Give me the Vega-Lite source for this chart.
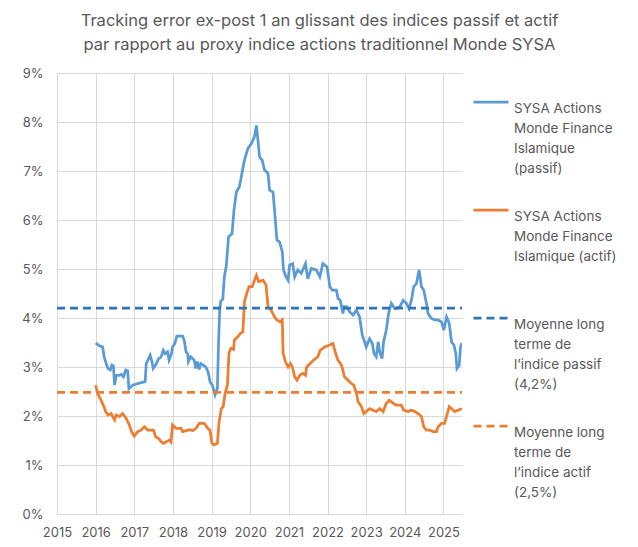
{
  "$schema": "https://vega.github.io/schema/vega-lite/v6.json",
  "width": 405,
  "height": 441,
  "autosize": {"type": "none"},
  "padding": {"left": 57, "top": 73, "right": 176, "bottom": 33},
  "background": "white",
  "title": {
    "text": ["Tracking error ex-post 1 an glissant des indices passif et actif", "par rapport au proxy indice actions traditionnel Monde SYSA"],
    "fontSize": 16.5,
    "font": "Inter",
    "fontWeight": "normal",
    "color": "#595959",
    "lineHeight": 24,
    "anchor": "middle",
    "dx": 60,
    "offset": 14
  },
  "data": {
    "values": [
      {"annee": 2016.00, "te": 3.49, "serie": "passif"},
      {"annee": 2016.05, "te": 3.46, "serie": "passif"},
      {"annee": 2016.10, "te": 3.43, "serie": "passif"},
      {"annee": 2016.18, "te": 3.41, "serie": "passif"},
      {"annee": 2016.22, "te": 3.21, "serie": "passif"},
      {"annee": 2016.28, "te": 3.05, "serie": "passif"},
      {"annee": 2016.32, "te": 2.97, "serie": "passif"},
      {"annee": 2016.38, "te": 2.94, "serie": "passif"},
      {"annee": 2016.42, "te": 3.04, "serie": "passif"},
      {"annee": 2016.46, "te": 3.02, "serie": "passif"},
      {"annee": 2016.49, "te": 2.63, "serie": "passif"},
      {"annee": 2016.53, "te": 2.83, "serie": "passif"},
      {"annee": 2016.60, "te": 2.83, "serie": "passif"},
      {"annee": 2016.66, "te": 2.85, "serie": "passif"},
      {"annee": 2016.72, "te": 2.80, "serie": "passif"},
      {"annee": 2016.78, "te": 2.94, "serie": "passif"},
      {"annee": 2016.83, "te": 2.92, "serie": "passif"},
      {"annee": 2016.86, "te": 2.56, "serie": "passif"},
      {"annee": 2016.96, "te": 2.63, "serie": "passif"},
      {"annee": 2017.13, "te": 2.67, "serie": "passif"},
      {"annee": 2017.28, "te": 2.70, "serie": "passif"},
      {"annee": 2017.31, "te": 3.07, "serie": "passif"},
      {"annee": 2017.41, "te": 3.24, "serie": "passif"},
      {"annee": 2017.46, "te": 3.10, "serie": "passif"},
      {"annee": 2017.49, "te": 2.97, "serie": "passif"},
      {"annee": 2017.56, "te": 3.05, "serie": "passif"},
      {"annee": 2017.63, "te": 3.17, "serie": "passif"},
      {"annee": 2017.69, "te": 3.20, "serie": "passif"},
      {"annee": 2017.75, "te": 3.34, "serie": "passif"},
      {"annee": 2017.80, "te": 3.27, "serie": "passif"},
      {"annee": 2017.86, "te": 3.31, "serie": "passif"},
      {"annee": 2017.90, "te": 3.14, "serie": "passif"},
      {"annee": 2017.96, "te": 3.27, "serie": "passif"},
      {"annee": 2017.99, "te": 3.41, "serie": "passif"},
      {"annee": 2018.05, "te": 3.48, "serie": "passif"},
      {"annee": 2018.10, "te": 3.63, "serie": "passif"},
      {"annee": 2018.25, "te": 3.63, "serie": "passif"},
      {"annee": 2018.29, "te": 3.55, "serie": "passif"},
      {"annee": 2018.34, "te": 3.31, "serie": "passif"},
      {"annee": 2018.38, "te": 3.27, "serie": "passif"},
      {"annee": 2018.40, "te": 3.11, "serie": "passif"},
      {"annee": 2018.46, "te": 3.21, "serie": "passif"},
      {"annee": 2018.50, "te": 3.18, "serie": "passif"},
      {"annee": 2018.55, "te": 3.14, "serie": "passif"},
      {"annee": 2018.59, "te": 2.97, "serie": "passif"},
      {"annee": 2018.63, "te": 3.11, "serie": "passif"},
      {"annee": 2018.68, "te": 2.95, "serie": "passif"},
      {"annee": 2018.72, "te": 3.07, "serie": "passif"},
      {"annee": 2018.78, "te": 3.04, "serie": "passif"},
      {"annee": 2018.85, "te": 3.00, "serie": "passif"},
      {"annee": 2018.91, "te": 2.90, "serie": "passif"},
      {"annee": 2018.96, "te": 2.70, "serie": "passif"},
      {"annee": 2019.02, "te": 2.63, "serie": "passif"},
      {"annee": 2019.09, "te": 2.43, "serie": "passif"},
      {"annee": 2019.15, "te": 2.56, "serie": "passif"},
      {"annee": 2019.18, "te": 3.48, "serie": "passif"},
      {"annee": 2019.21, "te": 4.16, "serie": "passif"},
      {"annee": 2019.24, "te": 4.35, "serie": "passif"},
      {"annee": 2019.29, "te": 4.38, "serie": "passif"},
      {"annee": 2019.33, "te": 4.84, "serie": "passif"},
      {"annee": 2019.38, "te": 5.06, "serie": "passif"},
      {"annee": 2019.44, "te": 5.66, "serie": "passif"},
      {"annee": 2019.53, "te": 5.72, "serie": "passif"},
      {"annee": 2019.58, "te": 6.20, "serie": "passif"},
      {"annee": 2019.64, "te": 6.57, "serie": "passif"},
      {"annee": 2019.72, "te": 6.68, "serie": "passif"},
      {"annee": 2019.85, "te": 7.22, "serie": "passif"},
      {"annee": 2019.94, "te": 7.46, "serie": "passif"},
      {"annee": 2020.03, "te": 7.56, "serie": "passif"},
      {"annee": 2020.11, "te": 7.70, "serie": "passif"},
      {"annee": 2020.16, "te": 7.93, "serie": "passif"},
      {"annee": 2020.20, "te": 7.63, "serie": "passif"},
      {"annee": 2020.24, "te": 7.29, "serie": "passif"},
      {"annee": 2020.31, "te": 7.22, "serie": "passif"},
      {"annee": 2020.37, "te": 7.02, "serie": "passif"},
      {"annee": 2020.46, "te": 6.95, "serie": "passif"},
      {"annee": 2020.50, "te": 6.61, "serie": "passif"},
      {"annee": 2020.59, "te": 6.57, "serie": "passif"},
      {"annee": 2020.63, "te": 6.20, "serie": "passif"},
      {"annee": 2020.69, "te": 5.59, "serie": "passif"},
      {"annee": 2020.76, "te": 5.55, "serie": "passif"},
      {"annee": 2020.83, "te": 5.35, "serie": "passif"},
      {"annee": 2020.86, "te": 4.98, "serie": "passif"},
      {"annee": 2020.92, "te": 4.85, "serie": "passif"},
      {"annee": 2020.98, "te": 4.77, "serie": "passif"},
      {"annee": 2021.02, "te": 5.08, "serie": "passif"},
      {"annee": 2021.10, "te": 5.11, "serie": "passif"},
      {"annee": 2021.15, "te": 4.84, "serie": "passif"},
      {"annee": 2021.23, "te": 4.98, "serie": "passif"},
      {"annee": 2021.32, "te": 4.91, "serie": "passif"},
      {"annee": 2021.43, "te": 5.11, "serie": "passif"},
      {"annee": 2021.49, "te": 4.80, "serie": "passif"},
      {"annee": 2021.58, "te": 5.01, "serie": "passif"},
      {"annee": 2021.71, "te": 4.98, "serie": "passif"},
      {"annee": 2021.80, "te": 4.84, "serie": "passif"},
      {"annee": 2021.88, "te": 5.11, "serie": "passif"},
      {"annee": 2021.99, "te": 5.04, "serie": "passif"},
      {"annee": 2022.06, "te": 4.64, "serie": "passif"},
      {"annee": 2022.12, "te": 4.57, "serie": "passif"},
      {"annee": 2022.23, "te": 4.57, "serie": "passif"},
      {"annee": 2022.27, "te": 4.40, "serie": "passif"},
      {"annee": 2022.33, "te": 4.36, "serie": "passif"},
      {"annee": 2022.40, "te": 4.09, "serie": "passif"},
      {"annee": 2022.43, "te": 4.23, "serie": "passif"},
      {"annee": 2022.49, "te": 4.23, "serie": "passif"},
      {"annee": 2022.57, "te": 4.13, "serie": "passif"},
      {"annee": 2022.66, "te": 4.06, "serie": "passif"},
      {"annee": 2022.75, "te": 4.16, "serie": "passif"},
      {"annee": 2022.83, "te": 4.02, "serie": "passif"},
      {"annee": 2022.90, "te": 3.65, "serie": "passif"},
      {"annee": 2022.96, "te": 3.51, "serie": "passif"},
      {"annee": 2023.00, "te": 3.41, "serie": "passif"},
      {"annee": 2023.09, "te": 3.58, "serie": "passif"},
      {"annee": 2023.16, "te": 3.48, "serie": "passif"},
      {"annee": 2023.20, "te": 3.28, "serie": "passif"},
      {"annee": 2023.26, "te": 3.21, "serie": "passif"},
      {"annee": 2023.31, "te": 3.51, "serie": "passif"},
      {"annee": 2023.35, "te": 3.31, "serie": "passif"},
      {"annee": 2023.41, "te": 3.17, "serie": "passif"},
      {"annee": 2023.45, "te": 3.51, "serie": "passif"},
      {"annee": 2023.52, "te": 3.75, "serie": "passif"},
      {"annee": 2023.58, "te": 4.09, "serie": "passif"},
      {"annee": 2023.65, "te": 4.30, "serie": "passif"},
      {"annee": 2023.74, "te": 4.19, "serie": "passif"},
      {"annee": 2023.87, "te": 4.23, "serie": "passif"},
      {"annee": 2023.96, "te": 4.36, "serie": "passif"},
      {"annee": 2024.04, "te": 4.30, "serie": "passif"},
      {"annee": 2024.11, "te": 4.19, "serie": "passif"},
      {"annee": 2024.17, "te": 4.36, "serie": "passif"},
      {"annee": 2024.23, "te": 4.64, "serie": "passif"},
      {"annee": 2024.30, "te": 4.70, "serie": "passif"},
      {"annee": 2024.37, "te": 4.98, "serie": "passif"},
      {"annee": 2024.43, "te": 4.64, "serie": "passif"},
      {"annee": 2024.49, "te": 4.57, "serie": "passif"},
      {"annee": 2024.56, "te": 4.30, "serie": "passif"},
      {"annee": 2024.60, "te": 4.09, "serie": "passif"},
      {"annee": 2024.69, "te": 3.99, "serie": "passif"},
      {"annee": 2024.78, "te": 3.96, "serie": "passif"},
      {"annee": 2024.86, "te": 3.96, "serie": "passif"},
      {"annee": 2024.95, "te": 3.92, "serie": "passif"},
      {"annee": 2025.01, "te": 3.75, "serie": "passif"},
      {"annee": 2025.08, "te": 4.02, "serie": "passif"},
      {"annee": 2025.15, "te": 3.89, "serie": "passif"},
      {"annee": 2025.21, "te": 3.51, "serie": "passif"},
      {"annee": 2025.27, "te": 3.45, "serie": "passif"},
      {"annee": 2025.32, "te": 3.28, "serie": "passif"},
      {"annee": 2025.35, "te": 2.97, "serie": "passif"},
      {"annee": 2025.41, "te": 3.04, "serie": "passif"},
      {"annee": 2025.44, "te": 3.41, "serie": "passif"},
      {"annee": 2025.48, "te": 3.49, "serie": "passif"},

      {"annee": 2016.00, "te": 2.63, "serie": "actif"},
      {"annee": 2016.05, "te": 2.46, "serie": "actif"},
      {"annee": 2016.14, "te": 2.32, "serie": "actif"},
      {"annee": 2016.20, "te": 2.22, "serie": "actif"},
      {"annee": 2016.26, "te": 2.09, "serie": "actif"},
      {"annee": 2016.32, "te": 2.02, "serie": "actif"},
      {"annee": 2016.40, "te": 2.05, "serie": "actif"},
      {"annee": 2016.49, "te": 1.92, "serie": "actif"},
      {"annee": 2016.53, "te": 2.02, "serie": "actif"},
      {"annee": 2016.62, "te": 1.99, "serie": "actif"},
      {"annee": 2016.70, "te": 2.05, "serie": "actif"},
      {"annee": 2016.79, "te": 1.95, "serie": "actif"},
      {"annee": 2016.87, "te": 1.82, "serie": "actif"},
      {"annee": 2016.93, "te": 1.68, "serie": "actif"},
      {"annee": 2017.00, "te": 1.59, "serie": "actif"},
      {"annee": 2017.09, "te": 1.68, "serie": "actif"},
      {"annee": 2017.17, "te": 1.71, "serie": "actif"},
      {"annee": 2017.26, "te": 1.78, "serie": "actif"},
      {"annee": 2017.35, "te": 1.71, "serie": "actif"},
      {"annee": 2017.44, "te": 1.71, "serie": "actif"},
      {"annee": 2017.50, "te": 1.71, "serie": "actif"},
      {"annee": 2017.55, "te": 1.58, "serie": "actif"},
      {"annee": 2017.63, "te": 1.54, "serie": "actif"},
      {"annee": 2017.69, "te": 1.48, "serie": "actif"},
      {"annee": 2017.75, "te": 1.44, "serie": "actif"},
      {"annee": 2017.82, "te": 1.47, "serie": "actif"},
      {"annee": 2017.91, "te": 1.51, "serie": "actif"},
      {"annee": 2017.95, "te": 1.47, "serie": "actif"},
      {"annee": 2017.99, "te": 1.82, "serie": "actif"},
      {"annee": 2018.08, "te": 1.75, "serie": "actif"},
      {"annee": 2018.21, "te": 1.75, "serie": "actif"},
      {"annee": 2018.25, "te": 1.68, "serie": "actif"},
      {"annee": 2018.38, "te": 1.71, "serie": "actif"},
      {"annee": 2018.44, "te": 1.72, "serie": "actif"},
      {"annee": 2018.51, "te": 1.70, "serie": "actif"},
      {"annee": 2018.60, "te": 1.75, "serie": "actif"},
      {"annee": 2018.68, "te": 1.85, "serie": "actif"},
      {"annee": 2018.81, "te": 1.85, "serie": "actif"},
      {"annee": 2018.90, "te": 1.75, "serie": "actif"},
      {"annee": 2018.96, "te": 1.71, "serie": "actif"},
      {"annee": 2019.01, "te": 1.44, "serie": "actif"},
      {"annee": 2019.07, "te": 1.41, "serie": "actif"},
      {"annee": 2019.15, "te": 1.44, "serie": "actif"},
      {"annee": 2019.19, "te": 1.85, "serie": "actif"},
      {"annee": 2019.25, "te": 2.15, "serie": "actif"},
      {"annee": 2019.30, "te": 2.19, "serie": "actif"},
      {"annee": 2019.35, "te": 2.46, "serie": "actif"},
      {"annee": 2019.41, "te": 2.63, "serie": "actif"},
      {"annee": 2019.45, "te": 3.28, "serie": "actif"},
      {"annee": 2019.50, "te": 3.38, "serie": "actif"},
      {"annee": 2019.57, "te": 3.36, "serie": "actif"},
      {"annee": 2019.59, "te": 3.55, "serie": "actif"},
      {"annee": 2019.68, "te": 3.62, "serie": "actif"},
      {"annee": 2019.74, "te": 3.68, "serie": "actif"},
      {"annee": 2019.81, "te": 3.72, "serie": "actif"},
      {"annee": 2019.85, "te": 4.33, "serie": "actif"},
      {"annee": 2019.91, "te": 4.50, "serie": "actif"},
      {"annee": 2019.97, "te": 4.64, "serie": "actif"},
      {"annee": 2020.05, "te": 4.64, "serie": "actif"},
      {"annee": 2020.16, "te": 4.87, "serie": "actif"},
      {"annee": 2020.22, "te": 4.74, "serie": "actif"},
      {"annee": 2020.33, "te": 4.77, "serie": "actif"},
      {"annee": 2020.41, "te": 4.67, "serie": "actif"},
      {"annee": 2020.46, "te": 4.23, "serie": "actif"},
      {"annee": 2020.54, "te": 4.16, "serie": "actif"},
      {"annee": 2020.63, "te": 4.02, "serie": "actif"},
      {"annee": 2020.69, "te": 3.96, "serie": "actif"},
      {"annee": 2020.78, "te": 3.92, "serie": "actif"},
      {"annee": 2020.83, "te": 3.96, "serie": "actif"},
      {"annee": 2020.85, "te": 3.28, "serie": "actif"},
      {"annee": 2020.91, "te": 3.11, "serie": "actif"},
      {"annee": 2020.98, "te": 3.00, "serie": "actif"},
      {"annee": 2021.04, "te": 3.07, "serie": "actif"},
      {"annee": 2021.09, "te": 3.00, "serie": "actif"},
      {"annee": 2021.15, "te": 2.80, "serie": "actif"},
      {"annee": 2021.21, "te": 2.73, "serie": "actif"},
      {"annee": 2021.28, "te": 2.83, "serie": "actif"},
      {"annee": 2021.36, "te": 2.87, "serie": "actif"},
      {"annee": 2021.43, "te": 2.83, "serie": "actif"},
      {"annee": 2021.46, "te": 3.00, "serie": "actif"},
      {"annee": 2021.55, "te": 3.07, "serie": "actif"},
      {"annee": 2021.64, "te": 3.14, "serie": "actif"},
      {"annee": 2021.75, "te": 3.21, "serie": "actif"},
      {"annee": 2021.81, "te": 3.34, "serie": "actif"},
      {"annee": 2021.93, "te": 3.41, "serie": "actif"},
      {"annee": 2022.06, "te": 3.45, "serie": "actif"},
      {"annee": 2022.14, "te": 3.48, "serie": "actif"},
      {"annee": 2022.21, "te": 3.28, "serie": "actif"},
      {"annee": 2022.27, "te": 3.14, "serie": "actif"},
      {"annee": 2022.36, "te": 3.04, "serie": "actif"},
      {"annee": 2022.44, "te": 2.80, "serie": "actif"},
      {"annee": 2022.53, "te": 2.73, "serie": "actif"},
      {"annee": 2022.62, "te": 2.66, "serie": "actif"},
      {"annee": 2022.68, "te": 2.63, "serie": "actif"},
      {"annee": 2022.75, "te": 2.46, "serie": "actif"},
      {"annee": 2022.79, "te": 2.29, "serie": "actif"},
      {"annee": 2022.88, "te": 2.19, "serie": "actif"},
      {"annee": 2022.94, "te": 2.05, "serie": "actif"},
      {"annee": 2023.00, "te": 2.09, "serie": "actif"},
      {"annee": 2023.09, "te": 2.15, "serie": "actif"},
      {"annee": 2023.17, "te": 2.12, "serie": "actif"},
      {"annee": 2023.26, "te": 2.09, "serie": "actif"},
      {"annee": 2023.35, "te": 2.15, "serie": "actif"},
      {"annee": 2023.44, "te": 2.09, "serie": "actif"},
      {"annee": 2023.52, "te": 2.26, "serie": "actif"},
      {"annee": 2023.60, "te": 2.32, "serie": "actif"},
      {"annee": 2023.70, "te": 2.26, "serie": "actif"},
      {"annee": 2023.78, "te": 2.22, "serie": "actif"},
      {"annee": 2023.91, "te": 2.22, "serie": "actif"},
      {"annee": 2023.97, "te": 2.12, "serie": "actif"},
      {"annee": 2024.08, "te": 2.09, "serie": "actif"},
      {"annee": 2024.17, "te": 2.12, "serie": "actif"},
      {"annee": 2024.26, "te": 2.09, "serie": "actif"},
      {"annee": 2024.34, "te": 2.05, "serie": "actif"},
      {"annee": 2024.43, "te": 1.99, "serie": "actif"},
      {"annee": 2024.49, "te": 1.78, "serie": "actif"},
      {"annee": 2024.56, "te": 1.71, "serie": "actif"},
      {"annee": 2024.65, "te": 1.71, "serie": "actif"},
      {"annee": 2024.73, "te": 1.68, "serie": "actif"},
      {"annee": 2024.82, "te": 1.68, "serie": "actif"},
      {"annee": 2024.86, "te": 1.78, "serie": "actif"},
      {"annee": 2024.95, "te": 1.85, "serie": "actif"},
      {"annee": 2025.03, "te": 1.85, "serie": "actif"},
      {"annee": 2025.09, "te": 2.02, "serie": "actif"},
      {"annee": 2025.15, "te": 2.19, "serie": "actif"},
      {"annee": 2025.21, "te": 2.15, "serie": "actif"},
      {"annee": 2025.29, "te": 2.09, "serie": "actif"},
      {"annee": 2025.38, "te": 2.12, "serie": "actif"},
      {"annee": 2025.48, "te": 2.15, "serie": "actif"},

      {"annee": 2015.00, "te": 4.2, "serie": "moy_passif"},
      {"annee": 2025.48, "te": 4.2, "serie": "moy_passif"},
      {"annee": 2015.00, "te": 2.48, "serie": "moy_actif"},
      {"annee": 2025.48, "te": 2.48, "serie": "moy_actif"}
    ]
  },
  "mark": {"type": "line", "strokeWidth": 2.75, "interpolate": "linear", "clip": true},
  "encoding": {
    "x": {
      "field": "annee",
      "type": "quantitative",
      "scale": {"domain": [2015, 2025.48], "nice": false, "zero": false},
      "axis": {
        "title": null,
        "values": [2015, 2016, 2017, 2018, 2019, 2020, 2021, 2022, 2023, 2024, 2025],
        "format": "d",
        "domain": false,
        "ticks": false,
        "labelPadding": 12,
        "labelFlush": false
      }
    },
    "y": {
      "field": "te",
      "type": "quantitative",
      "scale": {"domain": [0, 9], "nice": false},
      "axis": {
        "title": null,
        "values": [0, 1, 2, 3, 4, 5, 6, 7, 8, 9],
        "labelExpr": "datum.value + '%'",
        "domain": false,
        "ticks": false,
        "labelPadding": 14
      }
    },
    "color": {
      "field": "serie",
      "type": "nominal",
      "scale": {
        "domain": ["passif", "actif", "moy_passif", "moy_actif"],
        "range": ["#5B9BD5", "#ED7D31", "#2E75B6", "#ED7D31"]
      },
      "legend": {
        "title": null,
        "orient": "none",
        "legendX": 415,
        "legendY": 10,
        "direction": "vertical",
        "symbolType": "stroke",
        "symbolSize": 1225,
        "symbolStrokeWidth": 2.75,
        "gridAlign": "all",
        "rowPadding": 15,
        "labelOffset": 4,
        "labelBaseline": "top",
        "labelExpr": "datum.value == 'passif' ? ['SYSA Actions', 'Monde Finance', 'Islamique', '(passif)'] : datum.value == 'actif' ? ['SYSA Actions', 'Monde Finance', 'Islamique (actif)'] : datum.value == 'moy_passif' ? ['Moyenne long', 'terme de', 'l\u2019indice passif', '(4,2%)'] : ['Moyenne long', 'terme de', 'l\u2019indice actif', '(2,5%)']",
        "encode": {"labels": {"update": {"lineHeight": {"value": 20}}}}
      }
    },
    "strokeDash": {
      "field": "serie",
      "type": "nominal",
      "scale": {
        "domain": ["passif", "actif", "moy_passif", "moy_actif"],
        "range": [[1, 0], [1, 0], [8, 5], [8, 5]]
      },
      "legend": {
        "title": null,
        "orient": "none",
        "legendX": 415,
        "legendY": 10,
        "direction": "vertical",
        "symbolType": "stroke",
        "symbolSize": 1225,
        "symbolStrokeWidth": 2.75,
        "gridAlign": "all",
        "rowPadding": 15,
        "labelOffset": 4,
        "labelBaseline": "top",
        "labelExpr": "datum.value == 'passif' ? ['SYSA Actions', 'Monde Finance', 'Islamique', '(passif)'] : datum.value == 'actif' ? ['SYSA Actions', 'Monde Finance', 'Islamique (actif)'] : datum.value == 'moy_passif' ? ['Moyenne long', 'terme de', 'l\u2019indice passif', '(4,2%)'] : ['Moyenne long', 'terme de', 'l\u2019indice actif', '(2,5%)']",
        "encode": {"labels": {"update": {"lineHeight": {"value": 20}}}}
      }
    }
  },
  "config": {
    "font": "Inter",
    "view": {"stroke": null},
    "axis": {
      "gridColor": "#D9D9D9",
      "gridWidth": 1,
      "labelColor": "#595959",
      "labelFontSize": 13,
      "labelFont": "Inter"
    },
    "legend": {
      "labelColor": "#595959",
      "labelFontSize": 13.5,
      "labelFont": "Inter",
      "labelLimit": 200
    }
  }
}
